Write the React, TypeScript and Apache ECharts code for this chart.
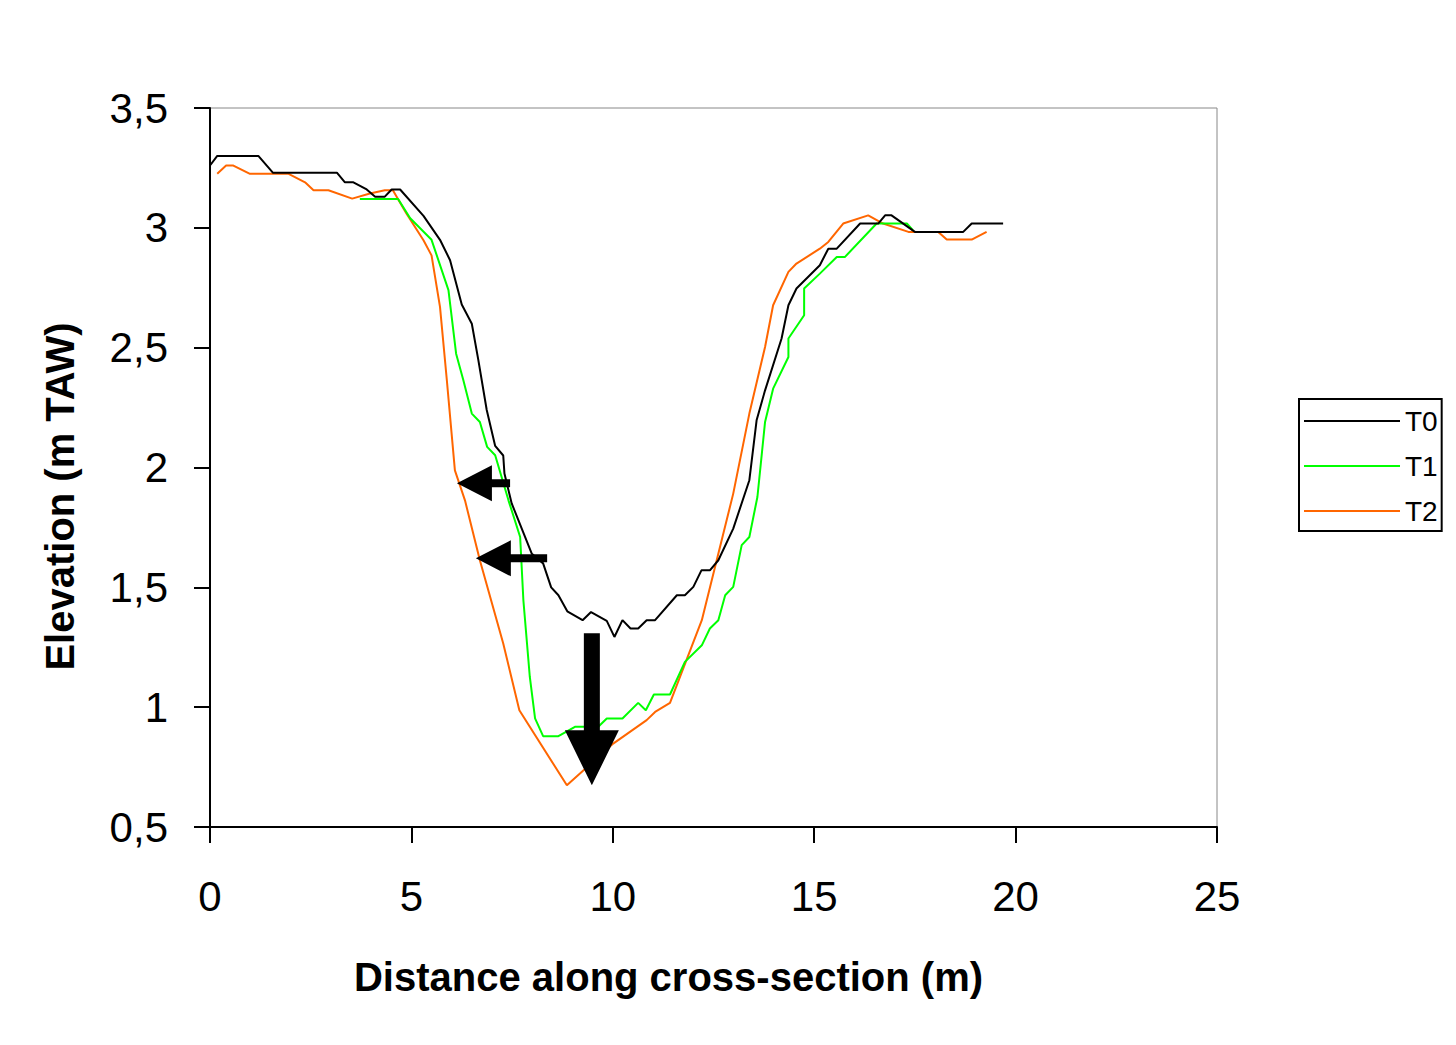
import React, { useEffect, useRef } from "react";
import * as echarts from "echarts";

const FONT = '"Liberation Sans", Arial, Helvetica, sans-serif';

const seriesNames = ["T0", "T1", "T2"];
const seriesColors = ["#000000", "#00ff00", "#ff6600"];

const t0X = [0, 0.18, 1.2, 1.56, 3.15, 3.35, 3.56, 3.89, 4.1, 4.34, 4.51, 4.72, 5.3, 5.71, 5.96, 6.25, 6.5, 6.66, 6.87, 7.08, 7.28, 7.31, 7.49, 7.99, 8.27, 8.47, 8.65, 8.87, 9.25, 9.46, 9.85, 10.04, 10.24, 10.44, 10.63, 10.84, 11.05, 11.59, 11.79, 12.0, 12.2, 12.41, 12.62, 12.99, 13.39, 13.57, 13.78, 14.19, 14.36, 14.56, 15.14, 15.35, 15.56, 16.14, 16.59, 16.76, 16.92, 17.5, 18.7, 18.91, 19.69];
const t0Y = [3.26, 3.3, 3.3, 3.23, 3.23, 3.19, 3.19, 3.16, 3.13, 3.13, 3.16, 3.16, 3.05, 2.95, 2.865, 2.68, 2.6, 2.45, 2.24, 2.09, 2.05, 1.975, 1.85, 1.64, 1.6, 1.5, 1.467, 1.4, 1.363, 1.397, 1.36, 1.293, 1.363, 1.328, 1.328, 1.363, 1.363, 1.467, 1.467, 1.502, 1.571, 1.571, 1.613, 1.745, 1.947, 2.197, 2.322, 2.538, 2.677, 2.747, 2.844, 2.913, 2.913, 3.018, 3.018, 3.052, 3.052, 2.983, 2.983, 3.018, 3.018];

const t1X = [3.72, 4.67, 4.97, 5.5, 5.92, 6.11, 6.29, 6.5, 6.7, 6.88, 7.08, 7.41, 7.7, 7.78, 7.94, 8.07, 8.27, 8.65, 9.06, 9.64, 9.85, 10.24, 10.63, 10.82, 11.02, 11.42, 11.79, 12.21, 12.41, 12.62, 12.79, 12.99, 13.2, 13.39, 13.59, 13.78, 13.98, 14.36, 14.36, 14.75, 14.75, 15.14, 15.56, 15.76, 16.55, 17.3, 17.45];
const t1Y = [3.12, 3.12, 3.04, 2.95, 2.74, 2.475, 2.364, 2.225, 2.19, 2.086, 2.051, 1.863, 1.71, 1.446, 1.126, 0.953, 0.879, 0.879, 0.918, 0.918, 0.953, 0.953, 1.018, 0.987, 1.053, 1.053, 1.189, 1.258, 1.328, 1.363, 1.467, 1.502, 1.676, 1.71, 1.877, 2.19, 2.329, 2.461, 2.538, 2.635, 2.747, 2.809, 2.878, 2.878, 3.018, 3.018, 2.99];

const t2X = [0.18, 0.4, 0.58, 0.98, 1.94, 2.36, 2.57, 2.94, 3.53, 3.97, 4.34, 4.54, 4.88, 5.3, 5.5, 5.71, 5.88, 6.08, 6.33, 6.7, 7.28, 7.68, 8.86, 10.01, 10.84, 11.05, 11.42, 12.21, 12.99, 13.39, 13.78, 13.98, 14.36, 14.56, 15.14, 15.35, 15.72, 16.34, 16.71, 17.34, 18.08, 18.29, 18.91, 19.28];
const t2Y = [3.226, 3.26, 3.26, 3.226, 3.226, 3.19, 3.157, 3.157, 3.122, 3.143, 3.157, 3.157, 3.059, 2.948, 2.885, 2.67, 2.364, 1.988, 1.863, 1.613, 1.266, 0.987, 0.674, 0.848, 0.946, 0.98, 1.018, 1.363, 1.891, 2.225, 2.503, 2.677, 2.816, 2.851, 2.913, 2.941, 3.018, 3.052, 3.018, 2.983, 2.983, 2.951, 2.951, 2.983];

const xTicks = [0, 5, 10, 15, 20, 25];
const yTicks = [0.5, 1, 1.5, 2, 2.5, 3, 3.5];

// annotation arrows (data coordinates): tip and tail
const leftArrowTips = [[6.13, 1.934], [6.6, 1.621]];
const leftArrowTails = [7.45, 8.37];
const downArrowTop = [9.48, 1.308];
const downArrowTip = [9.48, 0.674];

const zip = (xs: number[], ys: number[]) => xs.map((x, i) => [x, ys[i]]);

export default function App() {
  const ref = useRef<HTMLDivElement>(null);
  useEffect(() => {
    if (!ref.current) return;
    const chart = echarts.init(ref.current, undefined, { renderer: "svg" });
    const datas = [zip(t0X, t0Y), zip(t1X, t1Y), zip(t2X, t2Y)];
    chart.setOption({
      animation: false,
      backgroundColor: "#ffffff",
      grid: {
        left: 210,
        top: 108,
        right: 239,
        bottom: 218,
        show: true,
        borderColor: "#888888",
        borderWidth: 1,
      },
      legend: {
        orient: "vertical",
        left: 1299,
        top: 399,
        data: seriesNames.map((n) => ({ name: n, icon: "rect" })),
        itemWidth: 96,
        itemHeight: 2,
        itemGap: 17,
        padding: [8, 4, 6, 5],
        borderColor: "#000",
        borderWidth: 2,
        textStyle: { fontFamily: FONT, fontSize: 28, color: "#000", lineHeight: 28 },
      },
      xAxis: {
        type: "value",
        min: xTicks[0],
        max: xTicks[xTicks.length - 1],
        interval: 5,
        name: "Distance along cross-section (m)",
        nameLocation: "middle",
        nameGap: 130,
        nameTextStyle: { fontFamily: FONT, fontSize: 40, fontWeight: "bold", color: "#000", padding: [0, 90, 0, 0] },
        axisLine: { lineStyle: { color: "#000", width: 2 } },
        axisTick: { length: 16, lineStyle: { color: "#000", width: 2 } },
        axisLabel: { fontFamily: FONT, fontSize: 42, color: "#000", margin: 48 },
        splitLine: { show: false },
      },
      yAxis: {
        type: "value",
        min: yTicks[0],
        max: yTicks[yTicks.length - 1],
        interval: 0.5,
        name: "Elevation (m TAW)",
        nameLocation: "middle",
        nameGap: 130,
        nameTextStyle: { fontFamily: FONT, fontSize: 40, fontWeight: "bold", color: "#000", padding: [0, 58, 0, 0] },
        axisLine: { lineStyle: { color: "#000", width: 2 } },
        axisTick: { length: 16, lineStyle: { color: "#000", width: 2 } },
        axisLabel: {
          fontFamily: FONT,
          fontSize: 42,
          color: "#000",
          margin: 42,
          formatter: (v: number) => String(v).replace(".", ","),
        },
        splitLine: { show: false },
      },
      series: seriesNames.map((name, i) => ({
        name,
        type: "line",
        data: datas[i],
        symbol: "none",
        showSymbol: false,
        lineStyle: { color: seriesColors[i], width: 2 },
        itemStyle: { color: seriesColors[i] },
        z: 3 - i,
      })),
    });

    const px = (p: number[]) => chart.convertToPixel({ gridIndex: 0 }, p) as number[];
    const graphics: any[] = [];
    leftArrowTips.forEach((tip, i) => {
      const t = px(tip);
      const tail = px([leftArrowTails[i], tip[1]]);
      const headLen = 35;
      const headHalf = 18;
      const shaftHalf = 4;
      const hb = t[0] + headLen;
      graphics.push({
        type: "polygon",
        z: 100,
        shape: {
          points: [
            [t[0], t[1]],
            [hb, t[1] - headHalf],
            [hb, t[1] - shaftHalf],
            [tail[0], t[1] - shaftHalf],
            [tail[0], t[1] + shaftHalf],
            [hb, t[1] + shaftHalf],
            [hb, t[1] + headHalf],
          ],
        },
        style: { fill: "#000" },
      });
    });
    {
      const top = px(downArrowTop);
      const tip = px(downArrowTip);
      const headLen = 55;
      const headHalf = 27;
      const shaftHalf = 8;
      const hb = tip[1] - headLen;
      graphics.push({
        type: "polygon",
        z: 100,
        shape: {
          points: [
            [tip[0], tip[1]],
            [tip[0] - headHalf, hb],
            [tip[0] - shaftHalf, hb],
            [tip[0] - shaftHalf, top[1]],
            [tip[0] + shaftHalf, top[1]],
            [tip[0] + shaftHalf, hb],
            [tip[0] + headHalf, hb],
          ],
        },
        style: { fill: "#000" },
      });
    }
    chart.setOption({ graphic: graphics });

    return () => chart.dispose();
  }, []);
  return (
    <div
      ref={ref}
      style={{ position: "fixed", left: 0, top: 0, width: 1456, height: 1045, background: "#fff" }}
    />
  );
}
